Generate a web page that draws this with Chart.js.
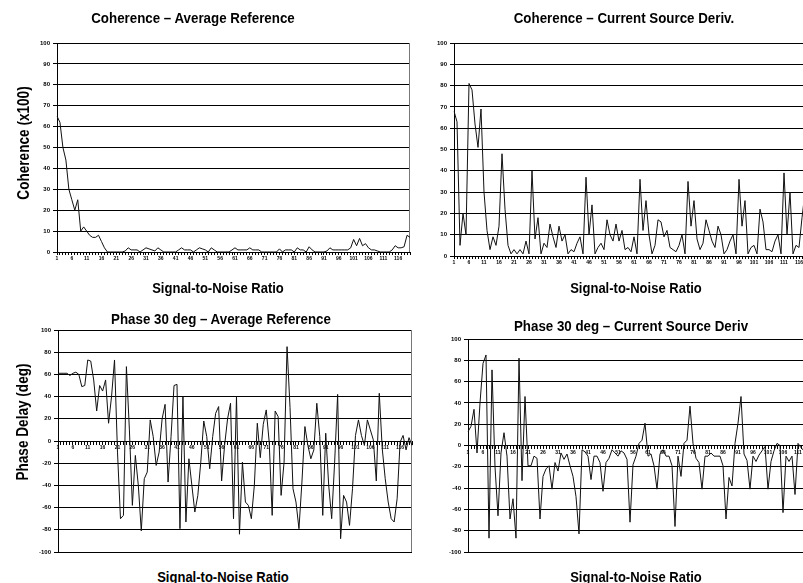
<!DOCTYPE html>
<html>
<head>
<meta charset="utf-8">
<script src="https://cdn.jsdelivr.net/npm/chart.js@4/dist/chart.umd.min.js"></script>
<style>
  html, body { margin: 0; padding: 0; overflow: hidden; background: #fff; width: 803px; height: 583px; }
  body { position: relative; }
  canvas { position: absolute; }
  .t { position: absolute; font-family: "Liberation Sans", Arial, sans-serif;
       font-weight: bold; color: #000; white-space: nowrap; line-height: 1; }
  .title { font-size: 15.5px; transform: translate(-50%, -50%) scaleX(0.86); }
  .xt { font-size: 15.5px; transform: translate(-50%, -50%) scaleX(0.84); }
  .yt { font-size: 16px; transform: translate(-50%, -50%) rotate(-90deg) scaleX(0.85); }
</style>
</head>
<body>
<canvas id="c1" width="420" height="270" style="left:0;top:0"></canvas>
<canvas id="c2" width="430" height="275" style="left:400px;top:0"></canvas>
<canvas id="c3" width="420" height="270" style="left:0;top:290px"></canvas>
<canvas id="c4" width="440" height="270" style="left:400px;top:290px"></canvas>

<div class="t title" style="left:193px;top:18px">Coherence – Average Reference</div>
<div class="t title" style="left:624px;top:18px">Coherence – Current Source Deriv.</div>
<div class="t title" style="left:221px;top:319px">Phase 30 deg – Average Reference</div>
<div class="t title" style="left:631px;top:326px">Phase 30 deg – Current Source Deriv</div>

<div class="t xt" style="left:218px;top:288px">Signal-to-Noise Ratio</div>
<div class="t xt" style="left:636px;top:288px">Signal-to-Noise Ratio</div>
<div class="t xt" style="left:223px;top:577px">Signal-to-Noise Ratio</div>
<div class="t xt" style="left:636px;top:577px">Signal-to-Noise Ratio</div>

<div class="t yt" style="left:24px;top:143px">Coherence (x100)</div>
<div class="t yt" style="left:23px;top:422px">Phase Delay (deg)</div>

<script>
// Signal-to-noise ratio categories 1..120
const snrLabels = [];
for (let i = 1; i <= 120; i++) snrLabels.push(String(i));

// Coherence (x100), average reference
const cohAvgRef = [
  65, 62, 50, 44, 30, 25, 20, 25, 10, 12,
  10, 8, 7, 7, 8, 5, 2, 0, 0, 0,
  0, 0, 0, 0.5, 2, 1, 1, 1, 0, 1,
  2, 1.5, 1, 0.5, 2, 1, 0, 0, 0, 0,
  0, 1, 2, 1, 1, 1, 0, 1, 2, 1.5,
  1, 0, 2, 1, 0, 0, 0, 0, 0, 1,
  2, 1, 1, 1, 1, 2, 1, 1, 1, 0,
  0, 0, 0, 0, 0, 1.5, 0, 1, 1, 1,
  0, 2, 1, 1, 0, 2.5, 1, 0, 0, 0,
  0, 0.5, 2, 1, 1, 1, 1, 1, 1, 2,
  6, 3, 6.5, 3, 4, 2, 1, 1, 0.5, 0,
  0, 0, 0, 1, 3, 2, 2, 2.5, 8, 7
];

// Coherence (x100), current source derivation
const cohCsd = [
  68, 63, 5, 20, 10, 81, 78, 62, 51, 69,
  30, 12, 3, 9, 5, 14, 48, 22, 5, 1,
  3, 1, 3, 1, 7, 1, 40, 8, 18, 1,
  6, 4, 15, 9, 4, 14, 7, 10, 1, 3,
  2, 6, 9, 1, 37, 10, 24, 1, 4, 6,
  3, 17, 10, 7, 15, 7, 12, 3, 4, 2,
  9, 1, 36, 12, 26, 10, 1, 5, 17, 16,
  9, 12, 4, 3, 2, 5, 10, 1, 35, 14,
  26, 8, 3, 6, 17, 12, 7, 4, 14, 10,
  1, 3, 7, 10, 1, 36, 14, 26, 1, 4,
  5, 1, 22, 16, 3, 3, 2, 7, 10, 1,
  39, 10, 30, 1, 5, 4, 18, 30, 24, 14
];

// Phase delay (deg) at 30 deg, average reference
const phaseAvgRef = [
  61, 61, 61, 61, 59, 61, 62, 60, 49, 50,
  73, 72, 55, 27, 50, 45, 55, 16, 40, 73,
  -10, -70, -67, 67, 10, -58, -13, -40, -81, -34,
  -28, 19, 4, -22, -10, 20, 33, -37, 4, 50,
  51, -79, 40, -73, -16, -40, -64, -49, -19, 18,
  4, -25, 4, 25, 31, -36, -4, 20, 34, -70,
  40, -84, -19, -55, -58, -70, -40, 16, -15, 15,
  28, -1, -67, 27, 22, -49, -19, 85, 30, -43,
  -55, -79, -37, 13, -4, -16, -8, 34, 4, -67,
  7, -40, -70, -19, 42, -88, -49, -55, -76, -43,
  5, 19, 5, -4, 19, 10, 1, -36, 43, -7,
  -34, -55, -70, -73, -52, -1, 5, -8, 3, -4
];

// Phase delay (deg) at 30 deg, current source derivation
const phaseCsd = [
  13, 18, 34, -7, 40, 77, 85, -87, 71, -20,
  -66, -7, 12, -10, -69, -50, -87, 82, -33, 46,
  -19, -19, -10, -12, -69, -29, -22, -19, -41, -16,
  -24, -7, -13, -8, -19, -29, -48, -83, -4, -6,
  -10, -32, -10, -10, -16, -43, -16, -12, -4, -7,
  -10, -5, -7, -13, -72, -18, -10, 2, 5, 21,
  -10, -8, -19, -41, -8, -4, -10, -10, -19, -76,
  -10, -29, 2, 5, 37, 2, -12, -16, -41, -10,
  -10, -7, -10, -10, -10, -19, -69, -30, -38, 2,
  21, 46, -8, -14, -41, -10, -15, -9, -5, -1,
  -41, -15, -5, 2, 0, -63, -10, -15, -10, -46,
  2, -2, -5, -10, -3, 5, -8, -12, -4, 0
];

const coherenceTicks = { min: 0, max: 100, step: 10 };
const phaseTicks = { min: -100, max: 100, step: 20 };

// right-hand edge of the plot frame
const frameEdge = {
  id: 'frameEdge',
  beforeDatasetsDraw(chart) {
    const { ctx, chartArea: a } = chart;
    ctx.save();
    ctx.strokeStyle = '#777';
    ctx.lineWidth = 1;
    const x = Math.round(a.right) - 0.5;
    ctx.beginPath();
    ctx.moveTo(x, Math.round(a.top));
    ctx.lineTo(x, Math.round(a.bottom));
    ctx.stroke();
    ctx.restore();
  }
};

const tickFont = { family: '"Liberation Sans", Arial, sans-serif', size: 6, weight: 'bold' };

function panel(id, values, range, opts) {
  const xPos = opts.zeroAxis ? { y: 0 } : 'bottom';
  const xScale = {
    type: 'category',
    position: xPos,
    offset: false,
    grid: { drawOnChartArea: false, drawTicks: true, tickLength: 3, color: '#000', lineWidth: 1 },
    border: { color: '#000', width: 1 },
    ticks: {
      autoSkip: false, maxRotation: 0, minRotation: 0, padding: 1,
      font: { family: tickFont.family, size: 5, weight: 'bold' }, color: '#000',
      callback(v, i) { return i % 5 === 0 ? this.getLabelForValue(v) : ''; }
    }
  };
  if (!opts.zeroAxis) xScale.afterFit = s => { s.height = opts.xHeight; };
  return new Chart(document.getElementById(id), {
    type: 'line',
    data: {
      labels: snrLabels,
      datasets: [{
        data: values, borderColor: '#111', borderWidth: 1,
        pointRadius: 0, tension: 0, fill: false
      }]
    },
    options: {
      responsive: false, animation: false, devicePixelRatio: 1, events: [],
      layout: { padding: opts.padding },
      plugins: { legend: { display: false }, tooltip: { enabled: false }, title: { display: false } },
      scales: {
        x: xScale,
        y: {
          min: range.min, max: range.max,
          afterFit: s => { s.width = opts.yWidth; },
          grid: { color: '#000', lineWidth: 1, tickLength: 4 },
          border: { color: '#000', width: 1 },
          ticks: { stepSize: range.step, padding: 3, font: tickFont, color: '#000' }
        }
      }
    },
    plugins: [frameEdge]
  });
}

panel('c1', cohAvgRef, coherenceTicks, { yWidth: 57, xHeight: 18, padding: { top: 43, right: 10, left: 0, bottom: 0 } });
panel('c2', cohCsd, coherenceTicks, { yWidth: 54, xHeight: 19, padding: { top: 43, right: 19, left: 0, bottom: 0 } });
panel('c3', phaseAvgRef, phaseTicks, { zeroAxis: true, yWidth: 58, padding: { top: 40, right: 8, left: 0, bottom: 8 } });
panel('c4', phaseCsd, phaseTicks, { zeroAxis: true, yWidth: 68, padding: { top: 49, right: 15, left: 0, bottom: 8 } });
</script>
</body>
</html>
